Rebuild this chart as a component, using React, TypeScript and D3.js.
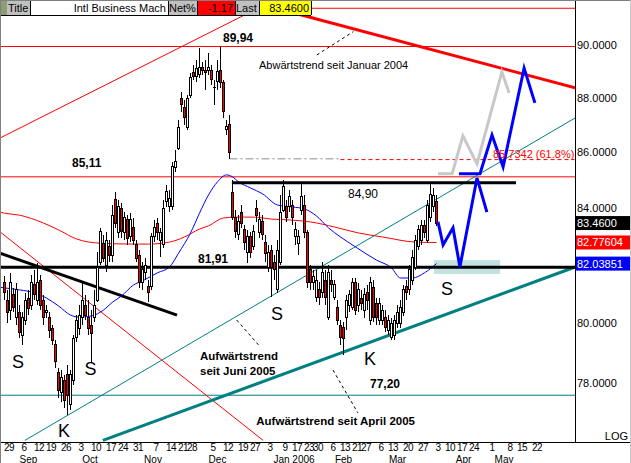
import React from "react";
import * as d3 from "d3";

// Daily sessions, oldest first: [open, high, low, close]
const ohlc: number[][] = [
  [81.40, 81.61, 80.78, 81.03], [80.78, 81.13, 80.00, 80.34], [80.44, 81.72, 80.10, 81.37], [80.96, 81.20, 80.37, 80.54],
  [80.17, 81.37, 79.93, 81.13], [80.37, 80.61, 79.49, 79.69], [79.59, 80.37, 79.26, 80.17], [80.10, 81.03, 79.93, 80.78],
  [80.85, 81.13, 80.27, 80.51], [80.61, 81.65, 80.44, 81.37], [81.30, 81.82, 80.78, 80.96], [80.78, 82.06, 80.61, 81.40],
  [81.47, 81.65, 80.44, 80.61], [80.78, 80.96, 79.93, 80.17], [80.37, 80.61, 80.17, 80.41], [80.17, 80.37, 79.49, 79.76],
  [79.83, 79.93, 79.26, 79.42], [79.26, 79.42, 78.49, 78.69], [78.35, 78.49, 77.50, 77.76], [77.69, 78.42, 77.37, 78.16],
  [78.09, 78.26, 77.17, 77.43], [78.26, 78.59, 76.95, 77.59], [77.27, 78.42, 77.11, 78.26], [78.09, 79.59, 77.93, 79.49],
  [79.52, 80.27, 79.35, 80.10], [79.83, 80.61, 79.59, 80.27], [80.17, 81.40, 79.93, 80.78], [80.61, 80.96, 80.10, 80.27],
  [80.17, 80.78, 79.59, 79.83], [79.93, 80.44, 78.69, 79.66], [80.17, 81.13, 80.03, 80.61], [80.78, 82.44, 80.71, 81.89],
  [82.09, 83.29, 81.99, 83.15], [82.75, 83.04, 82.09, 82.23], [81.99, 83.15, 81.75, 82.86], [82.62, 82.86, 82.09, 82.33],
  [82.33, 84.10, 82.09, 83.74], [84.28, 84.57, 83.29, 83.46], [83.11, 84.28, 82.93, 84.03], [83.99, 84.17, 82.93, 83.15],
  [83.11, 83.85, 82.86, 83.67], [83.57, 83.74, 82.69, 82.93], [82.97, 83.81, 82.79, 83.57], [83.29, 83.64, 82.69, 82.86],
  [82.69, 82.86, 82.09, 82.23], [82.33, 82.51, 81.20, 81.40], [81.40, 82.09, 81.13, 81.82], [81.72, 82.23, 81.47, 81.99],
  [81.23, 81.47, 80.71, 81.03], [81.23, 83.11, 81.13, 82.97], [82.97, 83.57, 82.79, 83.32], [83.46, 83.64, 82.86, 83.11],
  [82.86, 83.29, 82.26, 83.11], [82.69, 84.28, 82.58, 83.99], [84.21, 84.82, 84.03, 84.57], [84.03, 84.64, 83.85, 84.35],
  [84.03, 85.65, 83.92, 85.47], [85.43, 86.08, 85.29, 85.65], [86.15, 87.19, 86.08, 86.89], [88.00, 88.23, 87.49, 87.74],
  [87.63, 87.93, 87.00, 87.26], [86.89, 88.11, 86.82, 88.00], [88.11, 88.94, 88.00, 88.75], [88.94, 89.24, 88.68, 88.79],
  [88.79, 89.43, 88.60, 89.12], [88.87, 89.89, 88.75, 89.16], [89.16, 89.35, 88.87, 89.05], [89.05, 89.43, 88.30, 88.94],
  [89.05, 89.70, 88.87, 89.16], [89.05, 89.24, 88.49, 88.68], [88.38, 88.68, 87.74, 88.41], [88.60, 89.43, 88.30, 88.98],
  [89.05, 89.94, 88.38, 88.57], [88.57, 88.68, 87.26, 87.49], [86.82, 87.19, 86.63, 86.93], [87.00, 87.37, 85.76, 86.01],
  [84.53, 85.00, 83.57, 83.67], [83.67, 83.92, 82.93, 83.15], [83.04, 83.74, 82.86, 83.50], [83.85, 84.10, 83.29, 83.46],
  [83.22, 83.39, 82.51, 82.79], [82.44, 83.22, 82.06, 82.97], [82.97, 83.15, 82.23, 82.44], [82.62, 83.39, 82.51, 83.15],
  [83.99, 84.28, 83.50, 83.74], [83.11, 83.85, 82.93, 83.57], [83.50, 83.74, 82.86, 83.04], [82.79, 83.04, 82.09, 82.40],
  [81.89, 82.69, 81.75, 82.44], [82.51, 82.69, 80.88, 81.89], [82.09, 82.33, 81.47, 81.82], [81.13, 82.86, 81.03, 82.51],
  [82.09, 84.46, 81.99, 83.85], [83.92, 85.00, 83.85, 84.75], [84.03, 84.28, 83.50, 83.67], [84.03, 84.64, 83.85, 84.39],
  [84.10, 84.28, 83.39, 83.64], [82.97, 83.50, 82.69, 83.22], [82.75, 83.22, 82.33, 82.97], [83.92, 84.93, 83.74, 84.39],
  [84.10, 84.46, 82.93, 83.11], [83.11, 83.22, 81.20, 81.37], [81.82, 81.99, 81.13, 81.37], [81.37, 81.82, 81.13, 81.58],
  [80.88, 81.82, 80.71, 81.47], [81.13, 81.40, 80.61, 80.88], [81.03, 82.09, 80.85, 81.72], [81.47, 81.82, 80.61, 80.88],
  [80.20, 81.99, 80.10, 81.72], [81.47, 81.82, 81.06, 81.30], [80.88, 81.47, 80.78, 81.30], [80.54, 80.78, 79.93, 80.10],
  [79.93, 80.10, 79.26, 79.52], [79.86, 80.03, 78.92, 79.49], [80.17, 80.96, 79.76, 80.78], [80.61, 81.13, 80.37, 80.96],
  [80.54, 81.54, 80.44, 81.37], [81.37, 81.54, 80.27, 80.44], [80.61, 81.37, 80.37, 81.13], [80.85, 81.13, 80.44, 80.68],
  [80.44, 81.20, 80.17, 80.96], [81.03, 81.30, 80.44, 80.78], [80.10, 81.58, 79.93, 81.37], [81.20, 81.47, 80.03, 80.20],
  [80.68, 80.85, 79.93, 80.20], [80.10, 80.85, 79.93, 80.68], [80.10, 80.61, 79.93, 80.44], [80.20, 80.44, 79.69, 79.86],
  [79.76, 80.27, 79.59, 80.10], [79.52, 80.17, 79.42, 80.00], [79.59, 80.27, 79.42, 80.10], [80.00, 80.61, 79.83, 80.34],
  [80.00, 80.78, 79.83, 80.54], [80.34, 81.30, 80.24, 81.13], [81.23, 81.47, 80.78, 81.03], [81.13, 81.99, 80.96, 81.82],
  [81.47, 82.51, 81.30, 82.26], [81.92, 83.04, 81.82, 82.86], [82.62, 83.39, 82.51, 83.22], [82.86, 83.57, 82.69, 83.39],
  [83.39, 83.57, 82.93, 83.11], [82.86, 84.28, 82.75, 84.10], [83.64, 84.93, 83.50, 84.46], [84.03, 84.71, 83.85, 84.45],
  [84.21, 84.46, 83.36, 83.46],
];

// Slow moving average (red), sampled at session index
const redMaIdx = [-1.5, 0, 5, 13, 18, 24, 32, 43, 48, 55, 60, 65, 68, 73, 77, 83, 89, 95, 102, 110, 118, 126, 137, 144];
const redMaVal = [83.85, 83.81, 83.74, 83.46, 83.22, 82.9, 82.75, 82.72, 82.72, 82.79, 82.97, 83.25, 83.36, 83.64, 83.67, 83.67, 83.6, 83.57, 83.5, 83.32, 83.11, 82.97, 82.79, 82.77604];

// Fast moving average (blue)
const blueMaIdx = [-1.5, 0, 5, 10, 14, 18, 22, 25, 29, 33, 36, 39, 43, 46, 51, 55, 58, 62, 65, 68, 71, 74, 76, 78, 82, 86, 91, 96, 100, 104, 108, 112, 117, 124, 129, 132, 136, 140, 144];
const blueMaVal = [81.22, 81.2, 81.13, 81.03, 80.85, 80.58, 80.27, 80.2, 80.24, 80.44, 80.71, 80.92, 81.3, 81.44, 81.72, 81.92, 82.4, 83.11, 83.81, 84.46, 84.93, 85.18, 85.11, 84.93, 84.71, 84.5, 84.1, 84.03, 83.96, 83.71, 83.29, 82.97, 82.62, 82.16, 81.89, 81.54, 81.54, 81.72, 82.03851];

// Week-start sessions and their day labels
const weekIdx = [1, 6, 11, 15, 20, 25, 30, 35, 39, 44, 50, 55, 59, 62, 69, 74, 79, 83, 88, 93, 97, 101, 104, 109, 113, 117, 120, 125, 129, 134, 139, 144, 148, 152, 156, 162, 168, 172, 177];
const weekDay = ["29", "6", "12", "19", "26", "3", "10", "17", "24", "31", "7", "14", "21", "28", "5", "12", "19", "27", "3", "9", "17", "23", "30", "6", "13", "21", "27", "6", "13", "20", "27", "3", "10", "17", "24", "1", "8", "15", "22"];
const monthName = ["Sep", "Oct", "Nov", "Dec", "Jan 2006", "Feb", "Mar", "Apr", "May"];
const monthIdx = [7.5, 28, 49, 70.5, 96, 112.5, 130.5, 152.5, 166];

const priceTicks = [78, 80, 82, 84, 86, 88, 90];

// Horizontal levels
const redLevels = [91.41, 89.94, 85.11];
const supportLevel = 81.91;
const resistanceLevel = 84.9;
const resistanceSpan = [75.8, 170.5];
const tealLevel = 77.59;
const fibLevel = 85.7342;
const fibSpan = [112, 190];
const gapSpan = [75, 112];

// Trend lines as [session index, price] pairs
const downtrend2004 = [[91.8, 91.37], [190.2, 88.38]];
const channelUpper = [[-1.5, 86.52], [91.8, 91.84]];
const channelLower = [[-1.5, 83.15], [86.2, 76.12]];
const shortDowntrend = [[-1.5, 82.4], [57.5, 80.27]];
const uptrendApril = [[32.8, 76.12], [190.2, 81.92]];
const uptrendJune = [[6.8, 76.12], [190.2, 87.26]];

// Projected paths
const grayPath = [[144.5, 85.22], [149.2, 85.22], [152.8, 86.6], [157.5, 85.58], [165.8, 88.98], [168.2, 88.19]];
const bluePathA = [[144.5, 83.5], [146.2, 82.69], [149.5, 83.29], [151.8, 81.92], [157.5, 85.07], [160.8, 83.85]];
const bluePathB = [[151.5, 85.22], [158.5, 85.22], [162.5, 86.63], [166.2, 85.47], [173.2, 89.12], [176.8, 87.82]];
const targetZone = { i0: 143.2, i1: 165.2, p0: 81.68, p1: 82.16 };

// Leader lines from notes to trend lines
const leaderJan2004 = [[104.1, 89.62], [116.3, 90.51]];
const leaderJune = [[77.4, 80.1], [85.2, 79.2]];
const leaderApril = [[109.5, 78.42], [117.8, 77.01]];

const securityName = "Intl Business Mach";

const SANS = "'Liberation Sans', Arial, sans-serif";

export default function App() {
  const PR = 575;
  const PB = 442;
  const x = d3.scaleLinear().domain([0, 190]).range([4.5, 574.5]);
  const y = d3.scaleLog().domain([76.1, 91.73]).range([441, 0]);
  const line = d3.line<number[]>().x((d) => x(d[0])).y((d) => y(d[1]));
  const maLine = d3
    .line<number[]>()
    .x((d) => x(d[0]))
    .y((d) => y(d[1]))
    .curve(d3.curveMonotoneX);

  const redMa = redMaIdx.map((d, k) => [d, redMaVal[k]]);
  const blueMa = blueMaIdx.map((d, k) => [d, blueMaVal[k]]);
  const last = ohlc[ohlc.length - 1][3];
  const prev = ohlc[ohlc.length - 2][3];
  const netPct = ((last / prev - 1) * 100).toFixed(2);

  const tags = [
    { v: last, text: last.toFixed(4), bg: "#000" },
    { v: redMaVal[redMaVal.length - 1], text: redMaVal[redMaVal.length - 1].toFixed(5), bg: "#ff0000" },
    { v: blueMaVal[blueMaVal.length - 1], text: blueMaVal[blueMaVal.length - 1].toFixed(5), bg: "#0000ff" },
  ];
  // axis labels hidden behind a value tag are skipped
  const visibleTicks = priceTicks.filter((p) => tags.every((t) => Math.abs(y(p) - y(t.v)) > 9));

  const boldNum = { fontFamily: SANS, fontWeight: 700, fontSize: 12 } as const;

  return (
    <svg
      width={631}
      height={463}
      style={{ position: "absolute", left: 0, top: 0, background: "#fff" }}
      fontFamily={SANS}
    >
      <defs>
        <clipPath id="plotArea">
          <rect x={0} y={0} width={PR} height={PB} />
        </clipPath>
      </defs>
      <rect x={0} y={0} width={631} height={463} fill="#fff" />

      <g clipPath="url(#plotArea)">
        {/* target zone */}
        <rect
          x={x(targetZone.i0)}
          y={y(targetZone.p1)}
          width={x(targetZone.i1) - x(targetZone.i0)}
          height={y(targetZone.p0) - y(targetZone.p1)}
          fill="#c2e2e2"
        />

        {/* horizontal levels */}
        {redLevels.map((p) => (
          <line key={p} x1={0} x2={PR} y1={y(p)} y2={y(p)} stroke="#ff0000" strokeWidth={1} />
        ))}
        <line x1={0} x2={PR} y1={y(tealLevel)} y2={y(tealLevel)} stroke="#008080" strokeWidth={1} />
        <line
          x1={x(gapSpan[0])}
          x2={x(gapSpan[1])}
          y1={y(ohlc[gapSpan[0]][2])}
          y2={y(ohlc[gapSpan[0]][2])}
          stroke="#b4b4b4"
          strokeWidth={1.5}
          strokeDasharray="8,3,2,3"
        />
        <line
          x1={x(fibSpan[0])}
          x2={x(fibSpan[1])}
          y1={y(fibLevel)}
          y2={y(fibLevel)}
          stroke="#ff0000"
          strokeWidth={1}
          strokeDasharray="4,3"
        />

        {/* trend lines */}
        <path d={line(channelUpper) ?? ""} fill="none" stroke="#ff0000" strokeWidth={1} />
        <path d={line(channelLower) ?? ""} fill="none" stroke="#ff0000" strokeWidth={1} />
        <path d={line(uptrendJune) ?? ""} fill="none" stroke="#008080" strokeWidth={1} />
        <path d={line(uptrendApril) ?? ""} fill="none" stroke="#008080" strokeWidth={3} />
        <path d={line(downtrend2004) ?? ""} fill="none" stroke="#ff0000" strokeWidth={3} />
        <path d={line(shortDowntrend) ?? ""} fill="none" stroke="#000" strokeWidth={3} />

        {/* moving averages */}
        <path d={maLine(redMa) ?? ""} fill="none" stroke="#ff0000" strokeWidth={1} />
        <path d={maLine(blueMa) ?? ""} fill="none" stroke="#0000ff" strokeWidth={1} />

        {/* support / resistance */}
        <line x1={0} x2={PR} y1={y(supportLevel)} y2={y(supportLevel)} stroke="#000" strokeWidth={3} />
        <line
          x1={x(resistanceSpan[0])}
          x2={x(resistanceSpan[1])}
          y1={y(resistanceLevel)}
          y2={y(resistanceLevel)}
          stroke="#000"
          strokeWidth={3}
        />

        {/* candles */}
        <g shapeRendering="crispEdges">
          {ohlc.map((d, i) => {
            const [o, h, l, c] = d;
            const cx = x(i);
            const top = y(Math.max(o, c));
            const bot = y(Math.min(o, c));
            return (
              <g key={i}>
                <line x1={cx} x2={cx} y1={y(h)} y2={y(l)} stroke="#000" strokeWidth={1} />
                <rect
                  x={cx - 1}
                  y={top}
                  width={2}
                  height={Math.max(bot - top, 0.6)}
                  fill={c >= o ? "#fff" : "#ff0000"}
                  stroke="#000"
                  strokeWidth={1}
                />
              </g>
            );
          })}
        </g>

        {/* projections */}
        <path d={line(grayPath) ?? ""} fill="none" stroke="#c8c8c8" strokeWidth={3} strokeLinejoin="miter" />
        <path d={line(bluePathA) ?? ""} fill="none" stroke="#0000ff" strokeWidth={3} strokeLinejoin="miter" />
        <path d={line(bluePathB) ?? ""} fill="none" stroke="#0000ff" strokeWidth={3} strokeLinejoin="miter" />

        {/* leader lines */}
        {[leaderJan2004, leaderJune, leaderApril].map((ld, k) => (
          <path key={k} d={line(ld) ?? ""} fill="none" stroke="#000" strokeWidth={1} strokeDasharray="3,3" />
        ))}
      </g>

      {/* notes */}
      <text x={223} y={42} {...boldNum}>89,94</text>
      <text x={259} y={69} fontSize={11}>Abwärtstrend seit Januar 2004</text>
      <text x={72} y={167} {...boldNum}>85,11</text>
      <text x={348} y={198} fontSize={12}>84,90</text>
      <text x={198} y={263} {...boldNum}>81,91</text>
      <text x={370} y={388} {...boldNum}>77,20</text>
      <text x={200} y={360} fontSize={11.5} fontWeight={700}>Aufwärtstrend</text>
      <text x={200} y={375} fontSize={11.5} fontWeight={700}>seit Juni 2005</text>
      <text x={415} y={425} fontSize={11.5} fontWeight={700} textAnchor="end">Aufwärtstrend seit April 2005</text>
      <text x={493} y={158} fontSize={11} fill="#ff0000">{`${fibLevel} (61.8%)`}</text>
      {[
        ["S", 18, 368],
        ["S", 90.5, 375],
        ["S", 277, 320],
        ["S", 447, 295],
        ["K", 64, 437],
        ["K", 370, 365],
      ].map(([t, tx, ty], k) => (
        <text key={k} x={tx as number} y={ty as number} fontSize={18} textAnchor="middle">
          {t}
        </text>
      ))}

      {/* right price axis */}
      <rect x={PR} y={0} width={631 - PR} height={PB} fill="#fff" />
      {visibleTicks.map((p) => (
        <text key={p} x={577} y={y(p)} dy="0.36em" fontSize={11}>
          {p.toFixed(4)}
        </text>
      ))}
      {tags.map((t) => (
        <g key={t.text}>
          <rect x={576} y={y(t.v) - 7} width={55} height={14} fill={t.bg} />
          <text x={577} y={y(t.v)} dy="0.36em" fontSize={11} fill="#fff">
            {t.text}
          </text>
        </g>
      ))}
      <text x={628} y={440} fontSize={11} textAnchor="end">LOG</text>
      <line x1={PR + 0.5} x2={PR + 0.5} y1={0} y2={PB} stroke="#000" strokeWidth={1} />
      <line x1={0} x2={631} y1={PB + 0.5} y2={PB + 0.5} stroke="#000" strokeWidth={1} />

      {/* time axis */}
      {weekIdx.map((i, k) => (
        <text key={k} x={x(i) + 1.5} y={451} fontSize={10} letterSpacing={-0.6} textAnchor="middle">
          {weekDay[k]}
        </text>
      ))}
      {monthIdx.map((i, k) => (
        <text key={k} x={x(i) + 1.5} y={462.5} fontSize={10} textAnchor="middle">
          {monthName[k]}
        </text>
      ))}

      {/* title bar */}
      <g shapeRendering="crispEdges" fontSize={11}>
        <rect x={0} y={0} width={7} height={15} fill="#8f9d74" />
        <rect x={7} y={0} width={23} height={15} fill="#c0c0c0" />
        <rect x={30} y={0} width={138} height={15} fill="#fff" />
        <rect x={168} y={0} width={29} height={15} fill="#c0c0c0" />
        <rect x={197} y={0} width={38} height={15} fill="#ff0000" />
        <rect x={235} y={0} width={24} height={15} fill="#c0c0c0" />
        <rect x={259} y={0} width={52} height={15} fill="#ffff00" />
        {[30, 168, 197, 235, 259, 311].map((bx) => (
          <line key={bx} x1={bx + 0.5} x2={bx + 0.5} y1={0} y2={15} stroke="#000" />
        ))}
        <line x1={0} x2={311} y1={15.5} y2={15.5} stroke="#000" />
        <text x={8} y={12}>Title</text>
        <text x={166} y={12} textAnchor="end">{securityName}</text>
        <text x={169} y={12}>Net%</text>
        <text x={233} y={12} textAnchor="end">{netPct}</text>
        <text x={236} y={12}>Last</text>
        <text x={309} y={12} textAnchor="end">{last.toFixed(4)}</text>
      </g>

      {/* frame */}
      <line x1={0} x2={631} y1={0.5} y2={0.5} stroke="#808080" />
      <line x1={0.5} x2={0.5} y1={0} y2={463} stroke="#808080" />
      <line x1={630.5} x2={630.5} y1={0} y2={463} stroke="#c8c8c8" />
    </svg>
  );
}
